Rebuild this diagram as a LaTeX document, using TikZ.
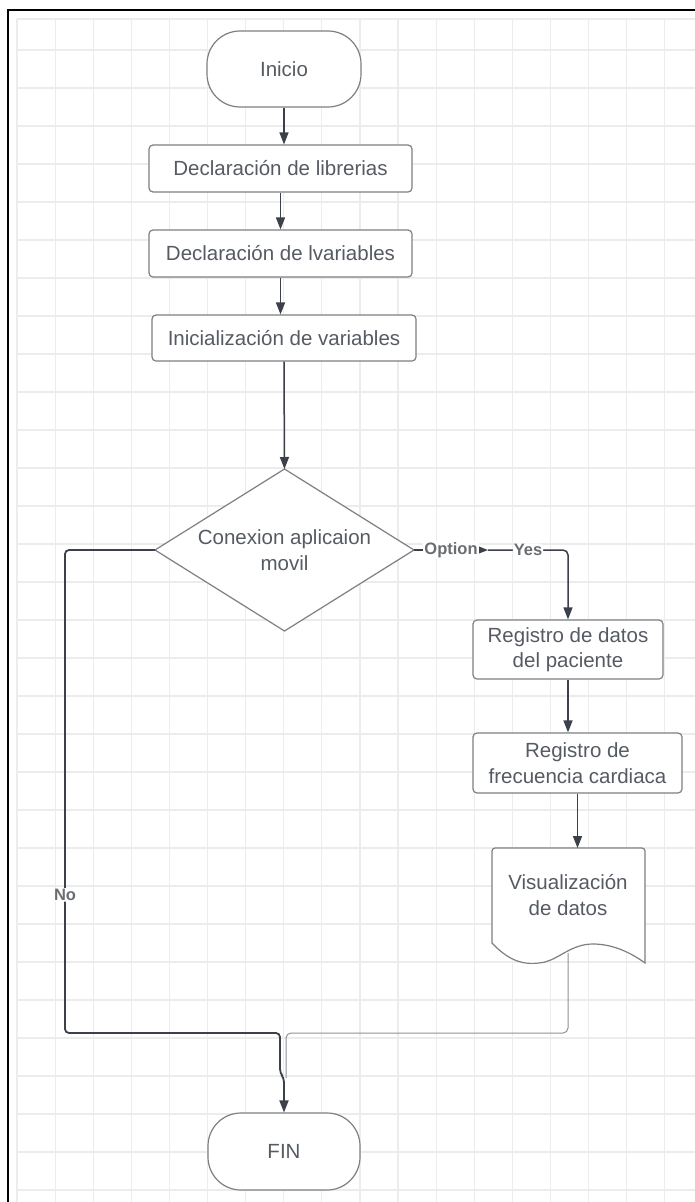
\documentclass[tikz,border=0pt]{standalone}
\usepackage{fontspec}
\setmainfont{Liberation Sans}
\usetikzlibrary{arrows.meta}

\definecolor{gridc}{HTML}{ECECEC}
\definecolor{edge}{HTML}{7C7F84}
\definecolor{ink}{HTML}{565B63}
\definecolor{wire}{HTML}{3B4049}
\definecolor{lbl}{HTML}{6A6D72}
\definecolor{thinwire}{HTML}{8E9196}

\tikzset{
  body/.style={text=ink, font=\fontsize{20.5}{25.5}\selectfont, align=center},
  shapebase/.style={body, draw=edge, line width=1.2pt, fill=white, inner sep=0pt},
  terminal/.style={shapebase, rounded corners=33pt, minimum width=154pt, minimum height=76pt},
  process/.style={shapebase, rounded corners=4pt},
  flow/.style={draw=wire, line width=1.5pt, -{Triangle[length=12pt,width=9pt]}},
  tag/.style={font=\bfseries\fontsize{16.5}{18}\selectfont, text=lbl, fill=white, inner sep=1pt},
  gridline/.style={draw=gridc, line width=1.2pt},
}

\begin{document}
\begin{tikzpicture}[x=1pt,y=-1pt]
\useasboundingbox (0,0) rectangle (695,1202);
\fill[white] (0,0) rectangle (695,1202);

% background grid
\foreach \k in {0,...,17} \draw[gridline] ({17+38.1*\k},19) -- ({17+38.1*\k},1202);
\draw[gridline] (17,19) -- (695,19);
\foreach \k in {0,...,30} \draw[gridline] (17,{50+38*\k}) -- (695,{50+38*\k});

% frame
\draw[black, line width=1.5pt] (8,1202) -- (8,10) -- (695,10);

% main column
\node[terminal] (start) at (284,69) {Inicio};
\node[process, minimum width=263pt, minimum height=47pt] (lib) at (280.5,168.5) {Declaración de librerias};
\node[process, minimum width=263pt, minimum height=47pt] (vars) at (280.5,253.5) {Declaración de lvariables};
\node[process, minimum width=264pt, minimum height=46pt] (init) at (284,338) {Inicialización de variables};

% decision
\coordinate (dn) at (284.5,469);
\coordinate (de) at (414,550);
\coordinate (ds) at (284.5,631);
\coordinate (dw) at (155,550);
\draw[draw=edge, line width=1.2pt, fill=white] (dn) -- (de) -- (ds) -- (dw) -- cycle;
\node[body] (dec) at (284.5,550) {Conexion aplicaion\\movil};

% right column
\node[process, minimum width=190pt, minimum height=59pt] (reg1) at (568,649.5) {Registro de datos\\del paciente};
\node[process, minimum width=209pt, minimum height=60pt] (reg2) at (577.5,763) {Registro de\\frecuencia cardiaca};

% document shape with wavy bottom edge
\draw[draw=edge, line width=1.2pt, fill=white, rounded corners=3pt]
  (492,943) -- (492,848) -- (645,848) [sharp corners] -- (645,963)
  .. controls (630,952) and (612,944) .. (593,944)
  .. controls (572,944) and (560,958) .. (545,962)
  .. controls (525,966) and (510,962) .. (492,943) -- cycle;
\node[body] (doc) at (568,895) {Visualización\\de datos};
\coordinate (doctop) at (578,848);
\coordinate (docbot) at (568,953);

% end
\node[terminal, minimum width=152pt, minimum height=77pt] (fin) at (284,1151.5) {FIN};

% connectors
\draw[flow] (start.south) -- (start.south |- lib.north);
\draw[flow] (lib.south) -- (vars.north);
\draw[flow] (vars.south) -- (vars.south |- init.north);
\draw[flow] (init.south) -- (dn);
\coordinate (opt) at (488,550);
\draw[flow] (de) -- node[tag] {Option} (opt);
\draw[flow, rounded corners=5pt] (opt) -- node[tag] {Yes} (opt -| reg1.north) -- (reg1.north);
\draw[flow] (reg1.south) -- (reg1.south |- reg2.north);
\draw[flow] (reg2.south) -- (reg2.south |- doctop);
\draw[draw=thinwire, line width=1pt, rounded corners=5pt]
  (docbot) -- (568,1033) -- (286,1033) -- (286,1078);
\draw[flow, line width=1.8pt, rounded corners=4pt]
  (dw) -- (65,550) -- node[tag, pos=0.714] {No} (65,1033) -- (280,1033)
  -- (280,1073) -- (284,1078) -- (fin.north);
\end{tikzpicture}
\end{document}
